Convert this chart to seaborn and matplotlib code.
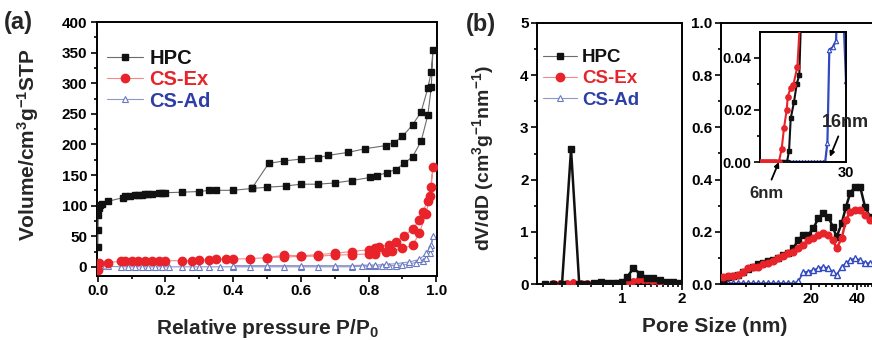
import numpy as np
import pandas as pd
import matplotlib
matplotlib.use("Agg")
import matplotlib.pyplot as plt
import seaborn as sns
from matplotlib.ticker import FixedLocator, NullLocator, MultipleLocator, FixedFormatter, NullFormatter

# ---------------- Panel (a): N2 isotherms ----------------
p_hpc_ads = [0.0005, 0.001, 0.002, 0.004, 0.008, 0.012, 0.03, 0.075, 0.08, 0.095, 0.11, 0.12,
             0.13, 0.14, 0.15, 0.16, 0.18, 0.19, 0.2, 0.25, 0.3, 0.33, 0.35, 0.4, 0.455, 0.5,
             0.555, 0.6, 0.65, 0.7, 0.75, 0.805, 0.825, 0.855, 0.88, 0.905, 0.93, 0.955, 0.975,
             0.985, 0.99]
v_hpc_ads = [33, 60, 85, 96, 101, 103, 107, 113, 115, 116, 117, 118, 118, 119, 119, 119, 120,
             121, 121, 122, 123, 125, 125, 125, 128, 130, 132, 135, 135, 137, 141, 146, 149, 154,
             159, 169, 180, 205, 248, 293, 354]
p_hpc_des = [0.985, 0.975, 0.955, 0.93, 0.9, 0.875, 0.85, 0.79, 0.74, 0.68, 0.65, 0.6, 0.55,
             0.505, 0.455]
v_hpc_des = [319, 292, 253, 232, 213, 203, 198, 193, 187, 182, 178, 176, 173, 169, 128]

p_csex_ads = [0.001, 0.005, 0.03, 0.07, 0.08, 0.1, 0.12, 0.14, 0.16, 0.18, 0.2, 0.25, 0.28, 0.3,
              0.33, 0.35, 0.38, 0.4, 0.45, 0.5, 0.55, 0.6, 0.65, 0.7, 0.75, 0.8, 0.82, 0.85, 0.87,
              0.9, 0.93, 0.95, 0.97, 0.98, 0.99]
v_csex_ads = [-5, 6, 7, 9, 10, 10, 10, 10, 10, 10, 10, 10, 10, 10.5, 11, 12.5, 12, 12.5, 13.5,
              15, 16, 17, 17.5, 19, 20, 21, 21, 24, 26, 30, 35, 55, 87, 115, 163]
p_csex_des = [0.985, 0.975, 0.96, 0.95, 0.93, 0.905, 0.88, 0.86, 0.83, 0.82, 0.8, 0.75, 0.7,
              0.65, 0.6, 0.55, 0.5]
v_csex_des = [130, 108, 90, 76, 62, 50, 41, 36, 32, 30, 28, 25, 22, 20, 18, 19, 15]

p_csad_ads = [0.001, 0.01, 0.03, 0.07, 0.09, 0.11, 0.13, 0.15, 0.17, 0.19, 0.21, 0.25, 0.28,
              0.3, 0.33, 0.36, 0.4, 0.45, 0.5, 0.55, 0.6, 0.65, 0.7, 0.75, 0.78, 0.8, 0.82, 0.84,
              0.86, 0.88, 0.9, 0.92, 0.94, 0.96, 0.97, 0.98, 0.99]
v_csad_ads = [3, 2, 1, 0, 0, 0, 0, 0, 0, 0, 0, 0, 0, 0, 0, 0, 0, 0, 0, 0, 0, 0, 0, 0, 1, 1, 1,
              1, 2, 2, 3, 5, 7, 10, 15, 22, 50]
p_csad_des = [0.985, 0.98, 0.97, 0.95, 0.92, 0.88, 0.85, 0.82, 0.8, 0.75, 0.7, 0.6, 0.5, 0.4]
v_csad_des = [35, 30, 22, 12, 8, 5, 4, 3, 3, 2, 2, 2, 2, 2]

# ---------------- Panel (b), left part (< 2 nm) ----------------
d_b1_hpc = [0.41, 0.45, 0.50, 0.555, 0.61, 0.66, 0.72, 0.78, 0.84, 0.90, 0.96, 1.0, 1.06, 1.14,
            1.23, 1.33, 1.43, 1.55, 1.68, 1.81, 1.95]
y_b1_hpc = [0.0, 0.0, 0.0, 2.58, 0.0, 0.0, 0.01, 0.04, 0.02, 0.01, 0.02, 0.03, 0.13, 0.30, 0.20,
            0.12, 0.12, 0.07, 0.04, 0.03, 0.02]
d_b1_cs = [0.45, 0.49, 0.53, 0.57, 0.62, 0.67, 0.72, 0.78, 0.84, 0.90, 0.96, 1.02, 1.08, 1.14,
           1.20, 1.27, 1.34, 1.41, 1.49, 1.58, 1.67, 1.77, 1.87, 1.97]
y_b1_csex = [0.02, 0.02, 0.02, 0.03, 0.02, 0.02, 0.02, 0.03, 0.02, 0.02, 0.02, 0.03, 0.04, 0.05,
             0.07, 0.08, 0.07, 0.06, 0.05, 0.04, 0.03, 0.03, 0.02, 0.02]
y_b1_csad = [0.005] * 24

# ---------------- Panel (b), right part (> 5 nm) ----------------
d_b2 = [5.33, 5.75, 6.20, 6.69, 7.21, 7.78, 8.38, 9.04, 9.75, 10.51, 11.33, 12.22, 13.17, 14.20,
        15.31, 16.51, 17.80, 19.19, 20.70, 22.32, 24.06, 25.95, 27.7, 29.4, 31.7, 33.9, 36.0,
        38.8, 41.9, 45.1, 48.6, 52.5]
y_b2_hpc = [0.02, 0.025, 0.03, 0.035, 0.045, 0.058, 0.065, 0.075, 0.079, 0.087, 0.092, 0.098,
            0.11, 0.118, 0.137, 0.169, 0.188, 0.188, 0.213, 0.252, 0.271, 0.258, 0.22, 0.18,
            0.232, 0.296, 0.347, 0.373, 0.373, 0.296, 0.258, 0.25]
y_b2_csex = [0.028, 0.03, 0.032, 0.035, 0.047, 0.06, 0.066, 0.066, 0.075, 0.08, 0.088, 0.098,
             0.107, 0.118, 0.124, 0.137, 0.149, 0.169, 0.175, 0.188, 0.194, 0.188, 0.169, 0.137,
             0.175, 0.245, 0.277, 0.283, 0.283, 0.264, 0.245, 0.24]
y_b2_csad = [0.003, 0.003, 0.003, 0.003, 0.003, 0.003, 0.003, 0.003, 0.003, 0.003, 0.003, 0.003,
             0.003, 0.003, 0.003, 0.01, 0.045, 0.047, 0.054, 0.06, 0.066, 0.06, 0.047, 0.035,
             0.066, 0.079, 0.092, 0.098, 0.092, 0.08, 0.08, 0.085]

# ---------------- Inset (zoom near zero) ----------------
d_in_csex = [3.9, 4.2, 4.5, 4.85, 5.2, 5.6, 6.1, 6.52, 6.89, 7.35, 7.53, 8.08, 8.6, 9.46, 10.3]
y_in_csex = [0, 0, 0, 0, 0, 0, 0, 0.005, 0.013, 0.020, 0.025, 0.0285, 0.0295, 0.0365, 0.06]
d_in_hpc = [3.9, 4.2, 4.5, 4.85, 5.2, 5.6, 6.0, 6.4, 6.9, 7.4, 7.77, 8.08, 8.74, 9.33, 9.91, 10.6]
y_in_hpc = [0, 0, 0, 0, 0, 0, 0, 0, 0, 0, 0.0043, 0.0167, 0.023, 0.030, 0.0333, 0.07]
d_in_csad = [3.9, 4.2, 4.5, 4.85, 5.2, 5.6, 6.0, 6.4, 6.9, 7.4, 7.9, 8.5, 9.1, 9.8, 10.5, 11.3,
             12.1, 13.0, 14.0, 15.0, 16.1, 17.2, 18.3, 19.3, 20.2, 21.9, 23.7, 26.0, 30.0]
y_in_csad = [0] * 23 + [0.0074, 0.043, 0.044, 0.0465, 0.09, 0.031]

labels = ["HPC", "CS-Ex", "CS-Ad"]
label_colors = ["#111111", "#e5252a", "#2d3fa6"]

# ---------------- Style ----------------
sns.set_style("ticks")
plt.rcParams["font.family"] = ["Liberation Sans", "DejaVu Sans"]
plt.rcParams["font.weight"] = "bold"
plt.rcParams["axes.labelweight"] = "bold"
plt.rcParams["mathtext.fontset"] = "custom"
plt.rcParams["mathtext.rm"] = "Liberation Sans:bold"
plt.rcParams["mathtext.it"] = "Liberation Sans:bold"
plt.rcParams["mathtext.bf"] = "Liberation Sans:bold"
plt.rcParams["mathtext.default"] = "rm"

BLACK = "#111111"
RED = "#e8232a"
BLUE = "#3148c0"

fig = plt.figure(figsize=(8.72, 3.40), dpi=100)
W, H = 872.0, 340.0


def add_ax(l, r, t, b):
    return fig.add_axes([l / W, (H - b) / H, (r - l) / W, (b - t) / H])


def style_ax(ax, fs=11):
    for s in ax.spines.values():
        s.set_visible(True)
        s.set_linewidth(1.4)
        s.set_color("black")
    ax.tick_params(which="both", direction="out", top=False, right=False,
                   width=1.2, labelsize=fs, colors="black", pad=2)
    ax.tick_params(which="major", length=4)
    ax.tick_params(which="minor", length=2.5)
    for lab in ax.get_xticklabels() + ax.get_yticklabels():
        lab.set_fontweight("bold")


def line(ax, x, y, color, lw, marker, ms, mfc, mec, label=None, z=2, mew=1.0):
    sns.lineplot(x=x, y=y, ax=ax, sort=False, estimator=None, color=color, lw=lw,
                 marker=marker, markersize=ms, markerfacecolor=mfc, markeredgecolor=mec,
                 markeredgewidth=mew, label=label, zorder=z, legend=False)


# ---------------- Panel (a) ----------------
ax_a = add_ax(97, 437, 22, 276)
line(ax_a, p_csad_ads + p_csad_des, v_csad_ads + v_csad_des, "#8f97c9", 0.8, "^", 4.2,
     "white", "#6a78c4", label="CS-Ad", z=2, mew=0.8)
line(ax_a, p_csex_ads + p_csex_des, v_csex_ads + v_csex_des, "#f28a8a", 0.8, "o", 6,
     RED, RED, label="CS-Ex", z=3)
line(ax_a, p_hpc_ads + p_hpc_des, v_hpc_ads + v_hpc_des, "#6b6b6b", 0.8, "s", 5,
     BLACK, BLACK, label="HPC", z=4)
ax_a.set_xlim(-0.002, 1.002)
ax_a.set_ylim(-15, 400)
ax_a.xaxis.set_major_locator(MultipleLocator(0.2))
ax_a.xaxis.set_minor_locator(MultipleLocator(0.1))
ax_a.yaxis.set_major_locator(MultipleLocator(50))
ax_a.yaxis.set_minor_locator(MultipleLocator(25))
ax_a.set_xticks([0, 0.2, 0.4, 0.6, 0.8, 1.0], ["0.0", "0.2", "0.4", "0.6", "0.8", "1.0"])
ax_a.set_xlabel("")
ax_a.set_ylabel("")
style_ax(ax_a, 11)
ax_a.tick_params(axis="y", pad=3)

handles_a, labs_a = ax_a.get_legend_handles_labels()
order = [labs_a.index(l) for l in labels]
leg_handles = [handles_a[i] for i in order]
leg = ax_a.legend(leg_handles, labels, loc="upper left", bbox_to_anchor=(0.03, 0.895),
                  frameon=False, borderaxespad=0, borderpad=0, handlelength=1.8,
                  handletextpad=0.3, labelspacing=0.12,
                  prop={"size": 14.5, "weight": "bold"}, labelcolor=label_colors)

fig.text(268 / W, 1 - 328 / H, r"Relative pressure P/P$_{0}$", ha="center", va="center",
         fontsize=15, fontweight="bold")
fig.text(28 / W, 1 - 145 / H, r"Volume/cm$^{3}$g$^{-1}$STP", ha="center", va="center",
         rotation=90, fontsize=15, fontweight="bold")
fig.text(4 / W, 1 - 22 / H, "(a)", ha="left", va="center", fontsize=17, fontweight="bold")

# ---------------- Panel (b), left ----------------
ax_b1 = add_ax(537, 682, 23, 284)
line(ax_b1, d_b1_cs, y_b1_csad, BLUE, 1.2, "^", 3.5, "white", BLUE, z=2, mew=0.8)
line(ax_b1, d_b1_cs, y_b1_csex, RED, 1.8, "o", 4, RED, RED, z=3)
line(ax_b1, d_b1_hpc, y_b1_hpc, BLACK, 1.8, "s", 4, BLACK, BLACK, z=4)
ax_b1.set_xscale("log")
ax_b1.set_xlim(0.3745, 2.0)
ax_b1.set_ylim(0, 5)
ax_b1.xaxis.set_major_locator(FixedLocator([1, 2]))
ax_b1.xaxis.set_major_formatter(FixedFormatter(["1", "2"]))
ax_b1.xaxis.set_minor_locator(FixedLocator([0.4, 0.5, 0.6, 0.7, 0.8, 0.9, 1.1, 1.2, 1.3, 1.4,
                                            1.5, 1.6, 1.7, 1.8, 1.9]))
ax_b1.xaxis.set_minor_formatter(NullFormatter())
ax_b1.yaxis.set_major_locator(MultipleLocator(1))
ax_b1.yaxis.set_minor_locator(MultipleLocator(0.5))
ax_b1.set_xlabel("")
ax_b1.set_ylabel("")
style_ax(ax_b1, 11)
ax_b1.legend(leg_handles, labels, loc="upper left", bbox_to_anchor=(0.04, 0.9),
             frameon=False, borderaxespad=0, borderpad=0, handlelength=1.85,
             handletextpad=0.25, labelspacing=0.22,
             prop={"size": 13.5, "weight": "bold"}, labelcolor=label_colors)

fig.text(483 / W, 1 - 158 / H, r"dV/dD (cm$^{3}$g$^{-1}$nm$^{-1}$)", ha="center",
         va="center", rotation=90, fontsize=14, fontweight="bold")
fig.text(466 / W, 1 - 24 / H, "(b)", ha="left", va="center", fontsize=17, fontweight="bold")
fig.text(715 / W, 1 - 327 / H, "Pore Size (nm)", ha="center", va="center", fontsize=15,
         fontweight="bold")

# ---------------- Panel (b), right ----------------
ax_b2 = add_ax(721, 920, 23, 284)
line(ax_b2, d_b2, y_b2_csad, BLUE, 1.2, "^", 4.5, "white", BLUE, z=2, mew=1.0)
line(ax_b2, d_b2, y_b2_hpc, BLACK, 1.8, "s", 4.2, BLACK, BLACK, z=3)
line(ax_b2, d_b2, y_b2_csex, RED, 1.8, "o", 4.8, RED, RED, z=4)
ax_b2.set_xscale("log")
ax_b2.set_xlim(5.15, 103.3)
ax_b2.set_ylim(0, 1.0)
ax_b2.xaxis.set_major_locator(FixedLocator([20, 40]))
ax_b2.xaxis.set_major_formatter(FixedFormatter(["20", "40"]))
ax_b2.xaxis.set_minor_locator(FixedLocator([m for m in np.arange(5, 100, 2.5) if m not in (20, 40)]))
ax_b2.xaxis.set_minor_formatter(NullFormatter())
ax_b2.yaxis.set_major_locator(MultipleLocator(0.2))
ax_b2.yaxis.set_minor_locator(MultipleLocator(0.1))
ax_b2.set_yticks([0, 0.2, 0.4, 0.6, 0.8, 1.0], ["0.0", "0.2", "0.4", "0.6", "0.8", "1.0"])
ax_b2.set_xlabel("")
ax_b2.set_ylabel("")
style_ax(ax_b2, 11)

# ---------------- Inset ----------------
ax_in = add_ax(760, 846, 32, 162)
line(ax_in, d_in_csad, y_in_csad, BLUE, 1.6, "^", 3.2, "white", BLUE, z=2, mew=0.8)
line(ax_in, d_in_hpc, y_in_hpc, BLACK, 1.5, "s", 3.2, BLACK, BLACK, z=3)
line(ax_in, d_in_csex, y_in_csex, RED, 1.5, "o", 3.8, RED, RED, z=4)
ax_in.set_xscale("log")
ax_in.set_xlim(3.9, 30)
ax_in.set_ylim(0, 0.0498)
ax_in.xaxis.set_major_locator(FixedLocator([30]))
ax_in.xaxis.set_major_formatter(FixedFormatter(["30"]))
ax_in.xaxis.set_minor_locator(NullLocator())
ax_in.set_yticks([0, 0.02, 0.04], ["0.00", "0.02", "0.04"])
ax_in.yaxis.set_minor_locator(MultipleLocator(0.01))
ax_in.set_xlabel("")
ax_in.set_ylabel("")
style_ax(ax_in, 10.5)
ax_in.tick_params(axis="x", length=0, pad=3)

ax_in.annotate("6nm", xy=(6.1, 0.0), xycoords="data",
               xytext=(766 / W, 1 - 193 / H), textcoords="figure fraction",
               ha="center", va="center", fontsize=12, fontweight="bold",
               arrowprops=dict(arrowstyle="-|>", color="black", lw=1.3, mutation_scale=7,
                               shrinkA=2, shrinkB=0),
               annotation_clip=False)
ax_in.annotate("16nm", xy=(20.5, 0.002), xycoords="data",
               xytext=(869 / W, 1 - 122 / H), textcoords="figure fraction",
               ha="right", va="center", fontsize=13, fontweight="bold",
               arrowprops=dict(arrowstyle="-|>", color="black", lw=1.3, mutation_scale=7,
                               shrinkA=2, shrinkB=0, relpos=(0.4, 0.0)),
               annotation_clip=False)

fig.savefig("out.png", dpi=100, facecolor="white")
